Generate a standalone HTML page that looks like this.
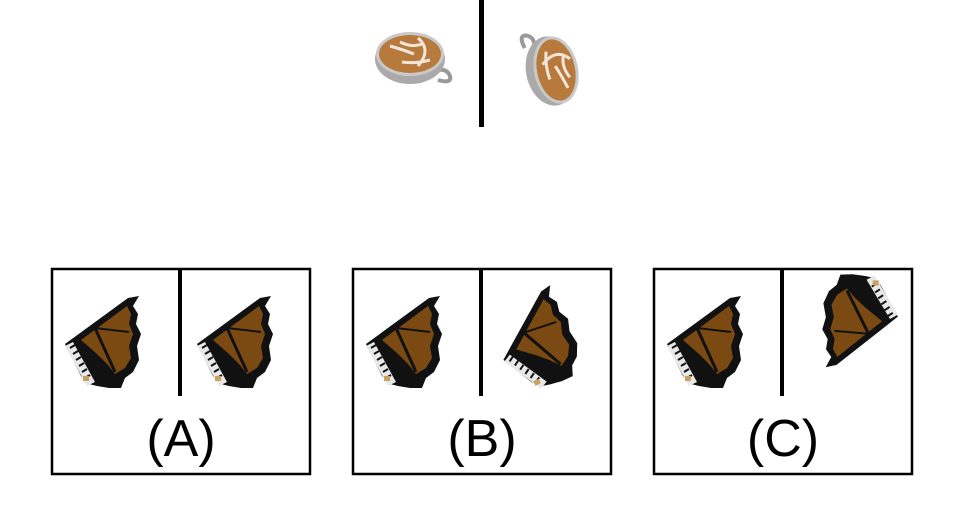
<!DOCTYPE html>
<html><head><meta charset="utf-8"><style>
html,body{margin:0;padding:0;background:#fff;width:963px;height:526px;overflow:hidden}
svg{display:block}
text{font-family:"Liberation Sans",sans-serif}
</style></head><body>
<svg width="963" height="526" viewBox="0 0 963 526">
<defs>
<g id="piano">
  <polygon points="-38,2 25,-44 36,-46 30,-36 35,-28 33,-18 38,-8 34,4 36,18 30,30 22,36 18,46 6,46 -6,44 -14,42 -22,34" fill="#111"/>
  <polygon points="-22,-2 24,-36 28,-28 26,-18 30,-8 26,4 28,16 22,26 12,32 4,22 -6,12" fill="#7a4a12"/>
  <line x1="-8" y1="-14" x2="12" y2="30" stroke="#111" stroke-width="3"/>
  <line x1="-8" y1="-14" x2="26" y2="-10" stroke="#111" stroke-width="2"/>
  <polygon points="-38,4 -30,0 -8,40 -16,44" fill="#e8e8e8"/>
  <g stroke="#111" stroke-width="2">
    <line x1="-33" y1="6" x2="-28" y2="3"/><line x1="-30" y1="12" x2="-25" y2="9"/>
    <line x1="-27" y1="18" x2="-22" y2="15"/><line x1="-24" y1="24" x2="-19" y2="21"/>
    <line x1="-21" y1="30" x2="-16" y2="27"/><line x1="-18" y1="36" x2="-13" y2="33"/>
  </g>
  <rect x="-20" y="34" width="6" height="5" fill="#c9a060"/>
</g>
<g id="cup">
  <path d="M22,18 Q36,12 40,22 Q42,30 28,26" fill="none" stroke="#999" stroke-width="4"/>
  <ellipse cx="0" cy="5" rx="35" ry="25" fill="#aaa"/>
  <ellipse cx="0" cy="0" rx="34" ry="22" fill="#c9c9c9"/>
  <ellipse cx="0" cy="0" rx="31" ry="19" fill="#b87a3c"/>
  <path d="M-20,-8 Q-6,-4 4,0 M-10,-12 Q2,-6 12,-10 M8,-16 Q22,-4 8,12 M-8,8 Q6,10 20,6" fill="none" stroke="#f2e6d8" stroke-width="3"/>
</g>
</defs>
<g>
  <use href="#cup" transform="translate(410,54)"/>
  <rect x="479" y="0" width="5" height="127" fill="#000"/>
  <use href="#cup" transform="translate(556,70) rotate(258) scale(1,-1)"/>
</g>
<g>
  <rect x="52" y="269" width="258" height="205" fill="none" stroke="#000" stroke-width="2.5"/>
  <rect x="178" y="269" width="4" height="127" fill="#000"/>
  <use href="#piano" transform="translate(103,342)"/>
  <use href="#piano" transform="translate(235,342)"/>
  <text x="181" y="456" font-size="52" text-anchor="middle">(A)</text>
</g>
<g>
  <rect x="353" y="269" width="258" height="205" fill="none" stroke="#000" stroke-width="2.5"/>
  <rect x="479" y="269" width="4" height="127" fill="#000"/>
  <use href="#piano" transform="translate(404,342)"/>
  <use href="#piano" transform="translate(537,342) rotate(-25)"/>
  <text x="482" y="456" font-size="52" text-anchor="middle">(B)</text>
</g>
<g>
  <rect x="654" y="269" width="258" height="205" fill="none" stroke="#000" stroke-width="2.5"/>
  <rect x="780" y="269" width="4" height="127" fill="#000"/>
  <use href="#piano" transform="translate(705,342)"/>
  <use href="#piano" transform="translate(860,320) rotate(178)"/>
  <text x="783" y="456" font-size="52" text-anchor="middle">(C)</text>
</g>
</svg>
</body></html>
